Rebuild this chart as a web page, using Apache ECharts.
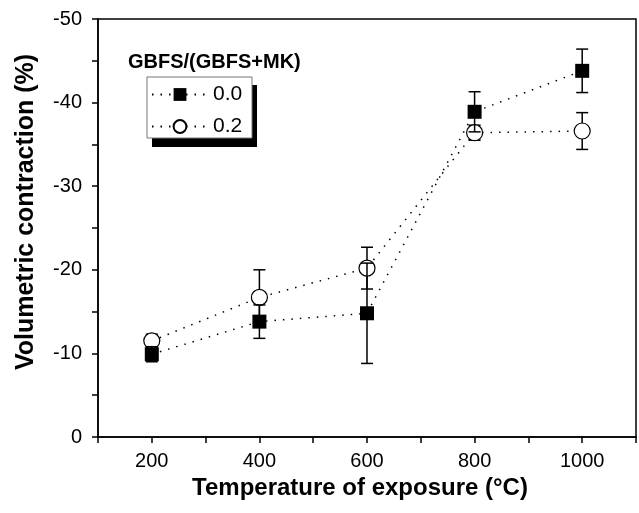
<!DOCTYPE html>
<html>
<head>
<meta charset="utf-8">
<script src="https://cdn.jsdelivr.net/npm/echarts@6/dist/echarts.min.js"></script>
<style>
  html, body { margin: 0; padding: 0; background: #fff; }
  #chart { width: 639px; height: 513px; }
</style>
</head>
<body>
<div id="chart"></div>
<script>
// temperatures (°C)
const temps = [200, 400, 600, 800, 1000];
// GBFS/(GBFS+MK) = 0.0
const mean00 = [-9.9, -13.8, -14.8, -38.9, -43.8];
const err00 = [0.9, 2.0, 6.0, 2.4, 2.6];
// GBFS/(GBFS+MK) = 0.2
const mean02 = [-11.5, -16.7, -20.2, -36.4, -36.6];
const err02 = [0.8, 3.3, 2.5, 0.9, 2.2];

const font = 'Liberation Sans, Arial, sans-serif';

function points(means) {
  return temps.map((t, i) => [t, means[i]]);
}
function bars(means, errs) {
  return temps.map((t, i) => [t, means[i] - errs[i], means[i] + errs[i]]);
}

// draws one error bar with caps
function errorBar(params, api) {
  const x = api.value(0);
  const a = api.coord([x, api.value(1)]);
  const b = api.coord([x, api.value(2)]);
  const w = 6;
  const style = { stroke: '#000', lineWidth: 1.5 };
  return {
    type: 'group',
    children: [
      { type: 'line', shape: { x1: a[0], y1: a[1], x2: b[0], y2: b[1] }, style: style },
      { type: 'line', shape: { x1: a[0] - w, y1: a[1], x2: a[0] + w, y2: a[1] }, style: style },
      { type: 'line', shape: { x1: b[0] - w, y1: b[1], x2: b[0] + w, y2: b[1] }, style: style }
    ]
  };
}

const chart = echarts.init(document.getElementById('chart'));

const dotted = { color: '#000', width: 1.5, type: [1.5, 7] };

chart.setOption({
  animation: false,
  textStyle: { fontFamily: font, color: '#000' },
  grid: {
    left: 98, right: 2, top: 19, bottom: 76,
    show: true, borderColor: '#000', borderWidth: 1.5, backgroundColor: 'transparent'
  },
  xAxis: {
    type: 'value',
    min: 100, max: 1100, interval: 100,
    name: 'Temperature of exposure (°C)',
    nameLocation: 'middle',
    nameGap: 33,
    nameTextStyle: { fontSize: 24, fontWeight: 'bold', color: '#000', padding: [0, 14, 0, 0] },
    axisLine: { lineStyle: { color: '#000', width: 1.5 } },
    axisTick: { length: 6, lineStyle: { color: '#000', width: 1.5 } },
    axisLabel: {
      fontSize: 20, color: '#000', margin: 14,
      formatter: v => (v % 200 === 0 && v >= 200 && v <= 1000) ? String(v) : ''
    },
    splitLine: { show: false }
  },
  yAxis: {
    type: 'value',
    min: -50, max: 0, interval: 5,
    inverse: true,
    name: 'Volumetric contraction (%)',
    nameLocation: 'middle',
    nameGap: 59,
    nameTextStyle: { fontSize: 25, fontWeight: 'bold', color: '#000', padding: [0, 0, 0, 32] },
    axisLine: { lineStyle: { color: '#000', width: 1.5 } },
    axisTick: { length: 6, lineStyle: { color: '#000', width: 1.5 } },
    axisLabel: {
      fontSize: 20, color: '#000', margin: 16,
      formatter: v => (v % 10 === 0) ? String(v) : ''
    },
    splitLine: { show: false }
  },
  legend: {
    data: ['0.0', '0.2'],
    orient: 'vertical',
    left: 151, top: 84,
    padding: 0,
    itemWidth: 56, itemHeight: 16, itemGap: 11,
    textStyle: { fontSize: 21, color: '#000', lineHeight: 20, fontFamily: font }
  },
  graphic: [
    { type: 'rect', z: 0, shape: { x: 152, y: 85, width: 105, height: 62 }, style: { fill: '#000' } },
    { type: 'rect', z: 1, shape: { x: 147, y: 77, width: 105, height: 61 }, style: { fill: '#fff', stroke: '#777', lineWidth: 1 } },
    {
      type: 'text', z: 1, x: 128, y: 62,
      style: { text: 'GBFS/(GBFS+MK)', fontSize: 20, fontWeight: 'bold', fontFamily: font, fill: '#000', verticalAlign: 'middle' }
    }
  ],
  series: [
    {
      type: 'custom', z: 1,
      renderItem: errorBar,
      encode: { x: 0, y: [1, 2] },
      data: bars(mean02, err02)
    },
    {
      name: '0.2', type: 'line', z: 2,
      data: points(mean02),
      symbol: 'circle', symbolSize: 16,
      itemStyle: { color: '#fff', borderColor: '#000', borderWidth: 1.2 },
      lineStyle: dotted
    },
    {
      type: 'custom', z: 3,
      renderItem: errorBar,
      encode: { x: 0, y: [1, 2] },
      data: bars(mean00, err00)
    },
    {
      name: '0.0', type: 'line', z: 4,
      data: points(mean00),
      symbol: 'rect', symbolSize: 14,
      itemStyle: { color: '#000', borderColor: '#000', borderWidth: 0 },
      lineStyle: dotted
    }
  ]
});
</script>
</body>
</html>
